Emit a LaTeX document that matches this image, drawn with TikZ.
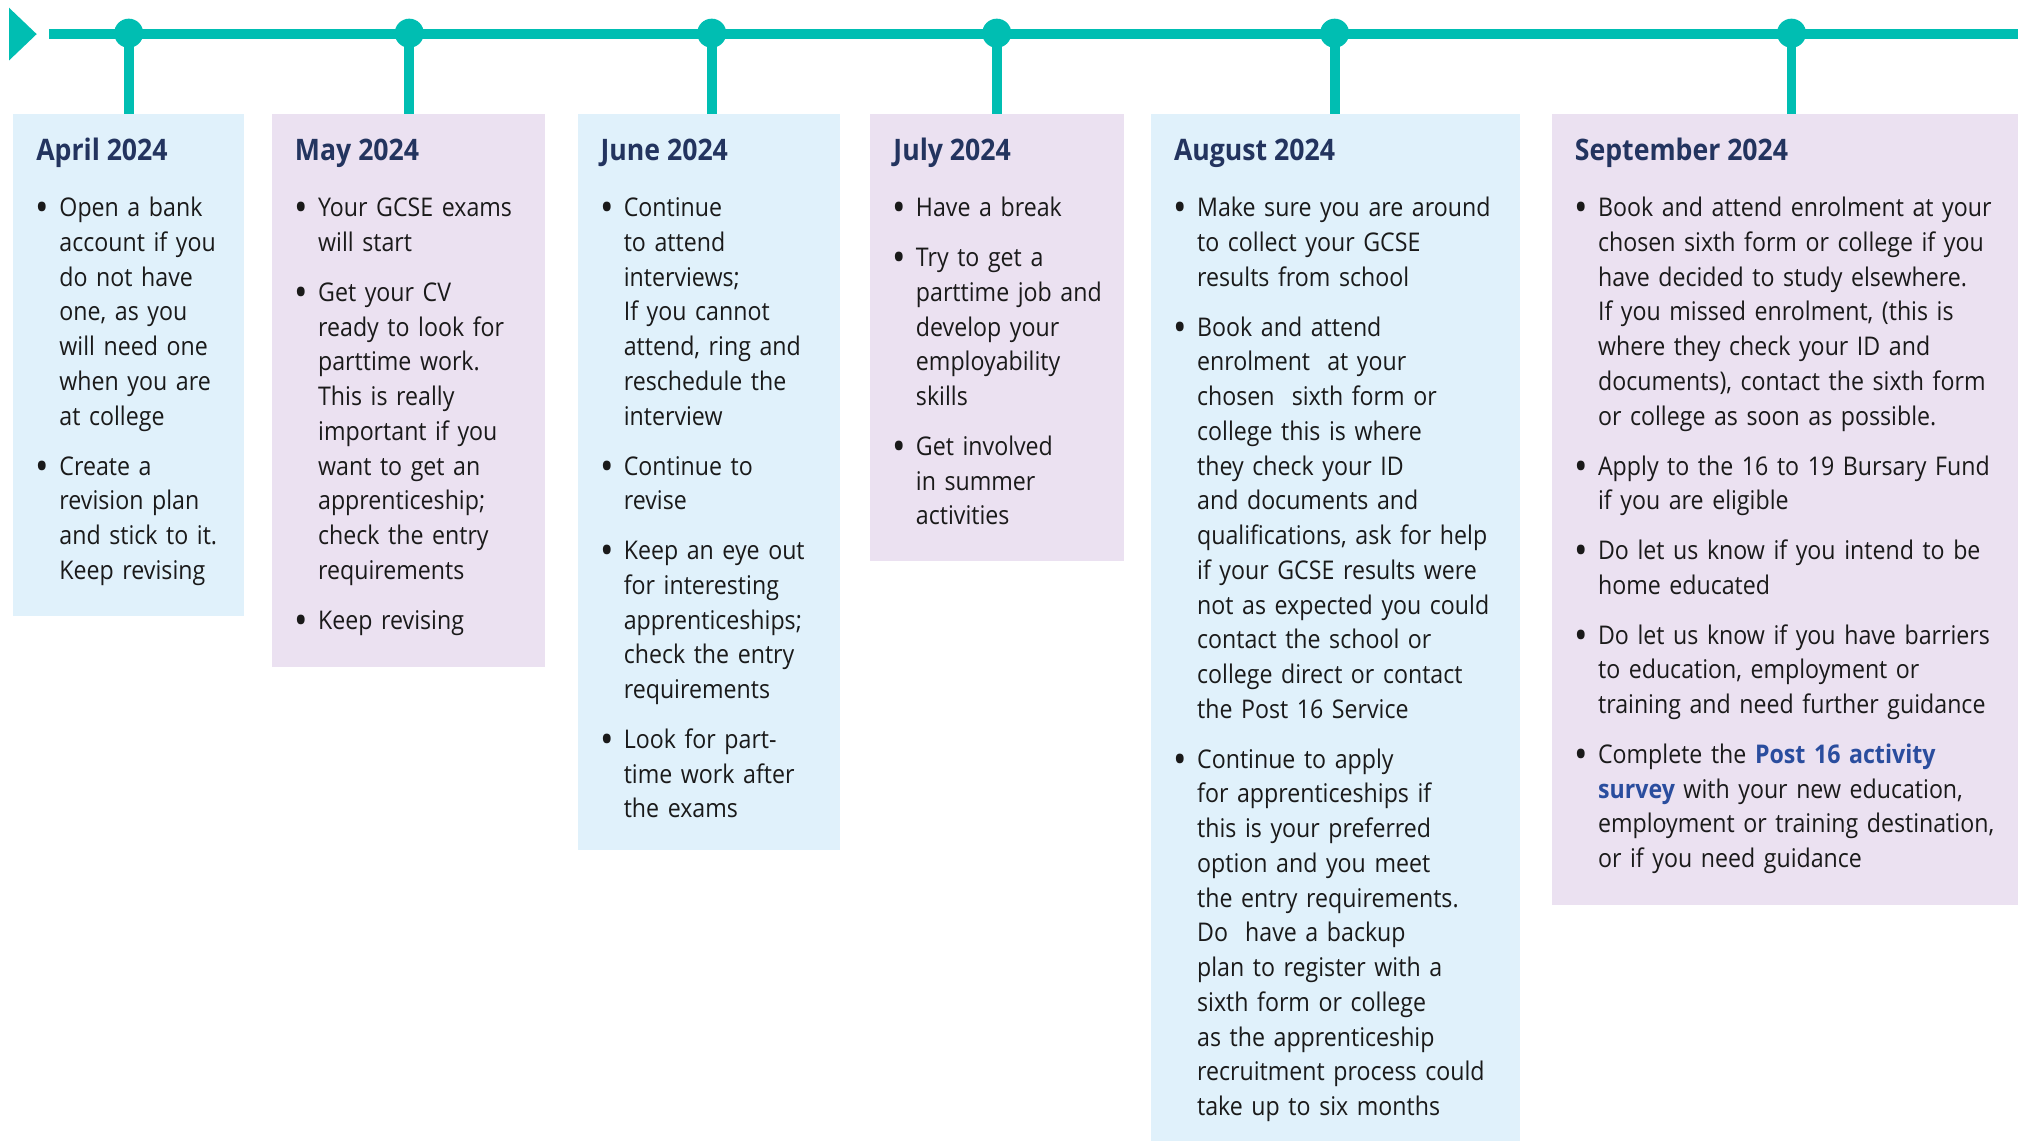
\documentclass[tikz,border=0pt]{standalone}
\usepackage{fontspec}
\setmainfont{Open Sans}[FakeStretch=0.9]
\definecolor{tealc}{RGB}{0,190,178}
\definecolor{boxblue}{RGB}{224,241,251}
\definecolor{boxpurple}{RGB}{235,225,241}
\definecolor{navy}{RGB}{35,52,95}
\definecolor{linkc}{RGB}{42,77,158}
\definecolor{textc}{RGB}{26,26,26}
\newcommand\bul{\makebox[0pt][r]{\raisebox{-4pt}{\fontsize{31}{27}\selectfont\textbullet}\hspace{8pt}}}
\newcommand\gap{\par\vspace{11.7pt}}
\newcommand\lnk[1]{{\bfseries\color{linkc}#1}}
\tikzset{
  tline/.style={draw=tealc, line width=7.8pt},
  stem/.style={draw=tealc, line width=7.6pt},
  dot/.style={circle, fill=tealc, inner sep=0pt, minimum size=22.6pt},
  panel/.style={anchor=north west, inner sep=0pt, draw=none},
  bluebox/.style={panel, fill=boxblue},
  purplebox/.style={panel, fill=boxpurple},
  head/.style={anchor=base west, inner sep=0pt, text=navy, font=\fontsize{23}{27}\selectfont\bfseries},
  body/.style={anchor=base west, inner sep=0pt, text=textc, text width=420pt, align=left, font=\fontsize{20}{27}\selectfont},
}
\begin{document}
\begin{tikzpicture}[x=1pt, y=-1pt]
\useasboundingbox (0,0) rectangle (1568,886.6);
% timeline
\fill[tealc] (7,6) -- (7,47) -- (28.5,26.5) -- cycle;
\coordinate (ls) at (38,26.4);
\coordinate (le) at (1568,26.4);
\draw[tline] (ls) -- (le);
% panels
\node[bluebox, minimum width=179.5pt, minimum height=389.8pt] (b1) at (10,88.6) {};
\node[purplebox, minimum width=212pt, minimum height=429.8pt] (b2) at (211,88.6) {};
\node[bluebox, minimum width=204pt, minimum height=571.8pt] (b3) at (448.6,88.6) {};
\node[purplebox, minimum width=197.5pt, minimum height=346.8pt] (b4) at (676,88.6) {};
\node[bluebox, minimum width=287pt, minimum height=798pt] (b5) at (894,88.6) {};
\node[purplebox, minimum width=363pt, minimum height=614.6pt] (b6) at (1205.5,88.6) {};
% dots and stems
\foreach \n/\x in {1/100,2/318,3/553,4/774.5,5/1037,6/1392}{
  \node[dot] (d\n) at (\x,25.8) {};
  \draw[stem] (d\n.center) -- (d\n.center |- b\n.north);
}
% headings
\node[head] (h1) at (28,124.5) {April 2024};
\node[head] (h2) at (229,124.5) {May 2024};
\node[head] (h3) at (466.5,124.5) {June 2024};
\node[head] (h4) at (694,124.5) {July 2024};
\node[head] (h5) at (912,124.5) {August 2024};
\node[head] (h6) at (1223.5,124.5) {September 2024};
% bodies
\node[body] (t1) at (46,168.4) {\bul Open a bank\\account if you\\do not have\\one, as you\\will need one\\when you are\\at college\gap
\bul Create a\\revision plan\\and stick to it.\\Keep revising};
\node[body] (t2) at (247,168.4) {\bul Your GCSE exams\\will start\gap
\bul Get your CV\\ready to look for\\parttime work.\\This is really\\important if you\\want to get an\\apprenticeship;\\check the entry\\requirements\gap
\bul Keep revising};
\node[body] (t3) at (484.5,168.4) {\bul Continue\\to attend\\interviews;\\If you cannot\\attend, ring and\\reschedule the\\interview\gap
\bul Continue to\\revise\gap
\bul Keep an eye out\\for interesting\\apprenticeships;\\check the entry\\requirements\gap
\bul Look for part-\\time work after\\the exams};
\node[body] (t4) at (711.5,168.4) {\bul Have a break\gap
\bul Try to get a\\parttime job and\\develop your\\employability\\skills\gap
\bul Get involved\\in summer\\activities};
\node[body] (t5) at (930,168.4) {\bul Make sure you are around\\to collect your GCSE\\results from school\gap
\bul Book and attend\\enrolment~ at your\\chosen~ sixth form or\\college this is where\\they check your ID\\and documents and\\qualifications, ask for help\\if your GCSE results were\\not as expected you could\\contact the school or\\college direct or contact\\the Post 16 Service\gap
\bul Continue to apply\\for apprenticeships if\\this is your preferred\\option and you meet\\the entry requirements.\\Do~ have a backup\\plan to register with a\\sixth form or college\\as the apprenticeship\\recruitment process could\\take up to six months};
\node[body] (t6) at (1241.5,168.4) {\bul Book and attend enrolment at your\\chosen sixth form or college if you\\have decided to study elsewhere.\\If you missed enrolment, (this is\\where they check your ID and\\documents), contact the sixth form\\or college as soon as possible.\gap
\bul Apply to the 16 to 19 Bursary Fund\\if you are eligible\gap
\bul Do let us know if you intend to be\\home educated\gap
\bul Do let us know if you have barriers\\to education, employment or\\training and need further guidance\gap
\bul Complete the \lnk{Post 16 activity}\\\lnk{survey} with your new education,\\employment or training destination,\\or if you need guidance};
\end{tikzpicture}
\end{document}
